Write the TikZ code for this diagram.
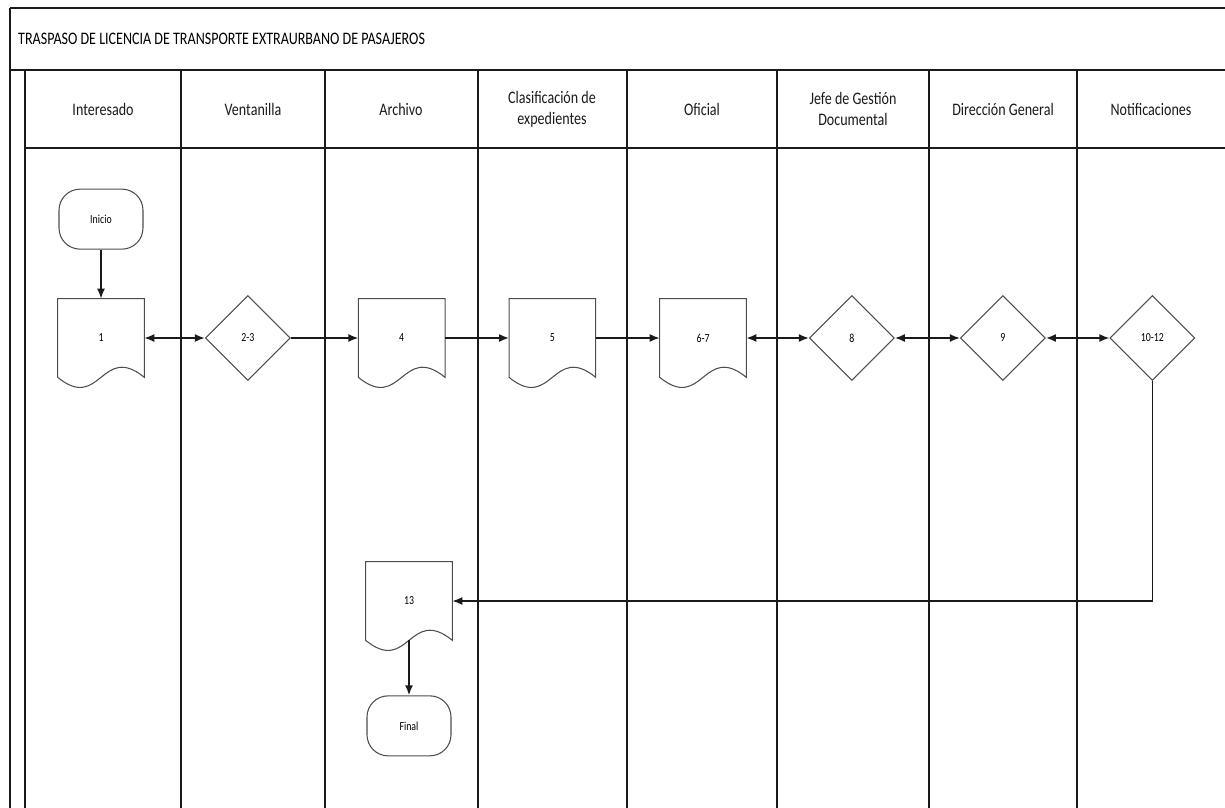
\documentclass[tikz,border=0pt]{standalone}
\usepackage{fontspec}
\setmainfont{Carlito}[FakeStretch=0.8]
\usepackage{tikz}
\usetikzlibrary{arrows.meta,positioning,shapes.geometric,calc}
\definecolor{ink}{HTML}{1A1A1A}
\definecolor{edge}{HTML}{4D4D4D}

% outline of a document symbol drawn round an empty node
\newcommand{\docoutline}[1]{%
  \draw[doc line] (#1.south west) .. controls +(43,35) and +(-43,-35) .. (#1.south east)
    -- (#1.north east) -- (#1.north west) -- cycle;}

\begin{document}
\begin{tikzpicture}[
  x=0.02cm, y=-0.02cm,
  font=\fontsize{7}{8}\selectfont,
  lane/.style={line width=0.9pt, ink},
  hdr/.style={font=\fontsize{10}{12}\selectfont, align=center, text=ink},
  docbox/.style={minimum width=1.72cm, minimum height=1.56cm, inner sep=0pt},
  doc line/.style={edge, line width=0.6pt},
  decision/.style={diamond, draw=edge, line width=0.6pt, aspect=1, minimum size=1.7cm, inner sep=0pt},
  terminal/.style={draw=edge, line width=0.6pt, rounded corners=12pt, minimum width=1.68cm, minimum height=1.2cm},
  flow/.style={-{Latex[length=2mm,width=1.6mm]}, line width=0.9pt, ink},
  flow2/.style={{Latex[length=2mm,width=1.6mm]}-{Latex[length=2mm,width=1.6mm]}, line width=0.9pt, ink}
]
\useasboundingbox (0,0) rectangle (1225,808);

% frame and lanes
\draw[lane] (10,8) -- (1225,8);
\draw[lane] (10,8) -- (10,808);
\draw[lane] (10,70) -- (1225,70);
\draw[lane] (25,70) -- (25,808);
\draw[lane] (25,148) -- (1225,148);
\foreach \x in {181,325,478,627,777,929,1077}
  \draw[lane] (\x,70) -- (\x,808);

\node[anchor=west, font=\fontsize{10}{12}\selectfont] (title) at (12,39)
  {TRASPASO DE LICENCIA DE TRANSPORTE EXTRAURBANO DE PASAJEROS};

% lane headers
\node[hdr] (h-int) at (103,109) {Interesado};
\node[hdr] (h-ven) at (253,109) {Ventanilla};
\node[hdr] (h-arc) at (401,109) {Archivo};
\node[hdr] (h-cla) at (552,109) {Clasificación de\\expedientes};
\node[hdr] (h-ofi) at (702,109) {Oficial};
\node[hdr] (h-jef) at (853,109) {Jefe de Gestión\\Documental};
\node[hdr] (h-dir) at (1003,109) {Dirección General};
\node[hdr] (h-not) at (1151,109) {Notificaciones};

% main row
\node[docbox] (doc1) at (101,338) {1};
\node[decision, right=1.21cm of doc1] (dia23) {2-3};
\node[docbox, right=1.35cm of dia23] (doc4) {4};
\node[docbox, right=1.28cm of doc4] (doc5) {5};
\node[docbox, right=1.28cm of doc5] (doc67) {6-7};
\node[decision, right=1.25cm of doc67] (dia8) {8};
\node[decision, right=1.3cm of dia8] (dia9) {9};
\node[decision, right=1.27cm of dia9] (dia1012) {10-12};
\node[terminal, above=0.98cm of doc1] (ini) {Inicio};

\node[docbox] (doc13) at (409,601) {13};
\node[terminal, below=1.1cm of doc13] (fin) {Final};

\docoutline{doc1}
\docoutline{doc4}
\docoutline{doc5}
\docoutline{doc67}
\docoutline{doc13}

% connectors
\draw[flow] (ini) -- (doc1);
\draw[flow2] (doc1) -- (dia23);
\draw[flow] (dia23) -- (doc4);
\draw[flow] (doc4) -- (doc5);
\draw[flow] (doc5) -- (doc67);
\draw[flow2] (doc67) -- (dia8);
\draw[flow2] (dia8) -- (dia9);
\draw[flow2] (dia9) -- (dia1012);
\draw[flow] (dia1012.south) |- (doc13.east);
\draw[flow] (doc13.south) -- (fin.north);
\end{tikzpicture}
\end{document}
